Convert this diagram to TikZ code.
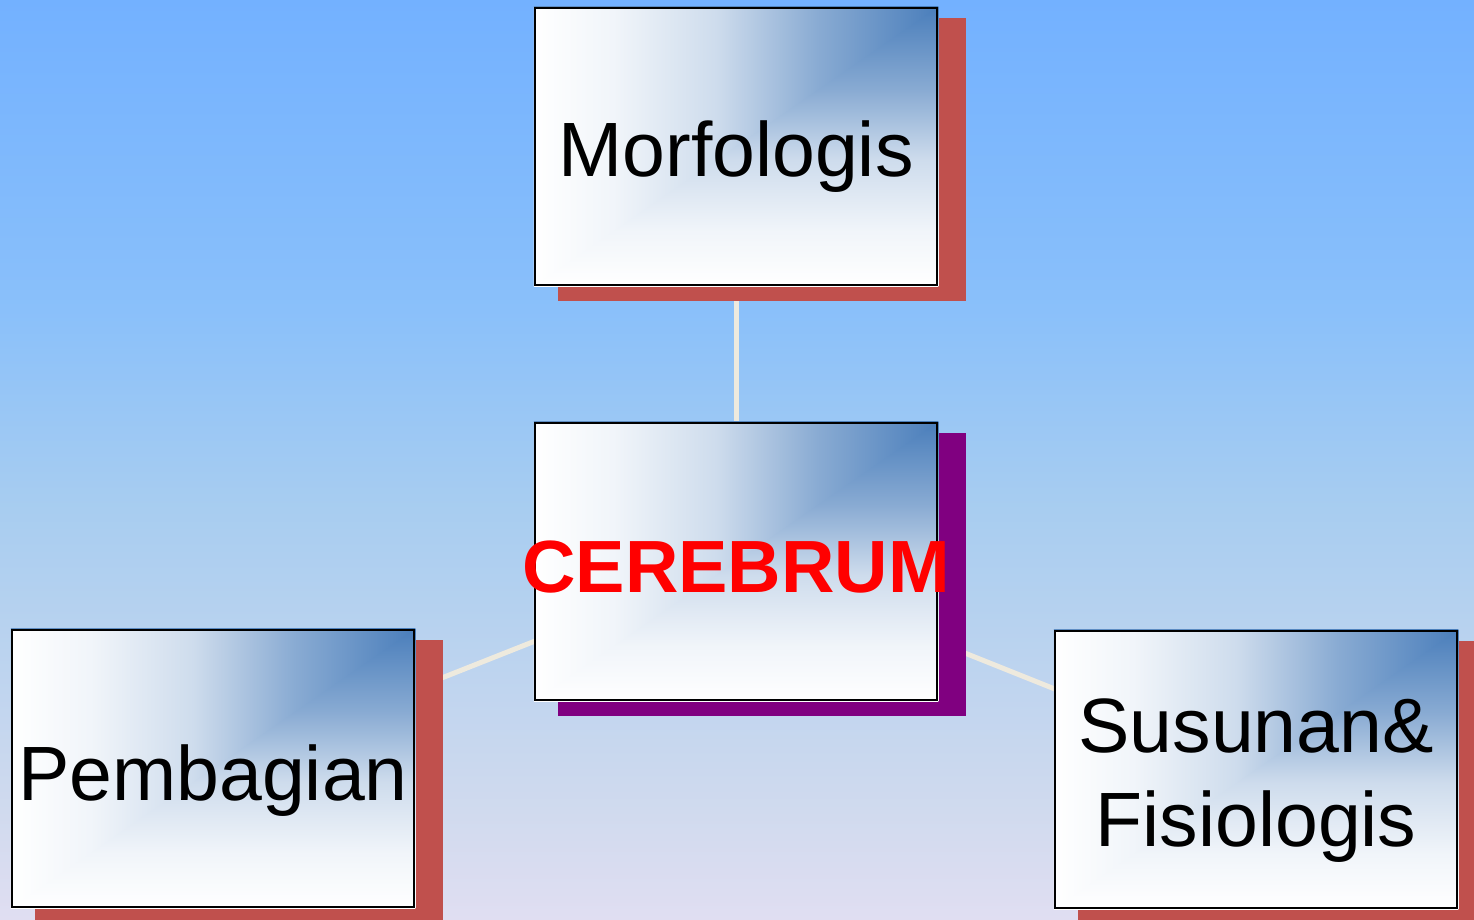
\documentclass[tikz,border=0pt]{standalone}
\usepackage{fontspec}
\setmainfont{Liberation Sans}
\usetikzlibrary{calc,backgrounds}
\definecolor{cblue}{RGB}{74,126,187}
\definecolor{bgA}{RGB}{115,177,255}
\definecolor{bgB}{RGB}{138,192,250}
\definecolor{bgC}{RGB}{168,205,240}
\definecolor{bgD}{RGB}{208,218,238}
\definecolor{bgE}{RGB}{224,222,242}
\definecolor{shadowred}{RGB}{192,80,77}
\definecolor{shadowpurple}{RGB}{128,0,128}
\definecolor{linkcol}{RGB}{238,234,222}
\colorlet{cB}{cblue!65!white}
\colorlet{cC}{cblue!27!white}
\colorlet{cD}{cblue!8!white}
\pgfdeclarehorizontalshading{cornerh}{100bp}{color(0bp)=(white); color(25bp)=(white); color(35bp)=(cD); color(47.5bp)=(cC); color(60bp)=(cB); color(75bp)=(cblue); color(100bp)=(cblue)}
\pgfdeclareverticalshading{cornerv}{100bp}{color(0bp)=(white); color(25bp)=(white); color(35bp)=(cD); color(47.5bp)=(cC); color(60bp)=(cB); color(75bp)=(cblue); color(100bp)=(cblue)}
\pgfdeclareverticalshading{skyshade}{100bp}{color(0bp)=(bgE); color(25bp)=(bgE); color(30.93bp)=(bgD); color(47.25bp)=(bgC); color(58.13bp)=(bgB); color(75bp)=(bgA); color(100bp)=(bgA)}
\newcommand{\boxlabel}[2]{\raisebox{#1}[0pt][0pt]{\makebox[0pt]{#2}}}
\newcommand{\cornerfill}[1]{%
  \shade[shading=cornerv] (#1.north west) rectangle (#1.south east);
  \begin{scope}
    \clip (#1.north west) -- (#1.north east) -- (#1.south west) -- cycle;
    \shade[shading=cornerh] (#1.north west) rectangle (#1.south east);
  \end{scope}}
\newcommand{\boxshadow}[2]{%
  \fill[#2] ($(#1.north west)+(24,11)$) rectangle ($(#1.south east)+(28,15)$);}
\tikzset{
  topicbox/.style={draw=black, line width=2.5pt, minimum width=402pt, minimum height=277pt,
    inner sep=0pt, font=\fontsize{77pt}{94pt}\selectfont},
  link/.style={draw=linkcol, line width=5pt}
}
\begin{document}
\begin{tikzpicture}[x=1pt,y=-1pt]
\useasboundingbox (0,0) rectangle (1474,919);
\node[topicbox] (m) at (736,146.5) {\boxlabel{-29.5pt}{Morfologis}};
\node[topicbox] (c) at (736,561.5) {\boxlabel{-30.5pt}{\fontsize{74pt}{90pt}\selectfont\bfseries\color{red}CEREBRUM}};
\node[topicbox] (p) at (213,768.5) {\boxlabel{-31.5pt}{Pembagian}};
\node[topicbox] (s) at (1256,769.5) {\boxlabel{-76.5pt}{\parbox[b]{400pt}{\centering Susunan\&\\Fisiologis}}};
\begin{pgfonlayer}{background}
  \shade[shading=skyshade] (0,0) rectangle (1474,919);
  \draw[link] (c.center) -- (m.center);
  \draw[link] (c.center) -- (p.center);
  \draw[link] (c.center) -- (s.center);
  \boxshadow{m}{shadowred}
  \boxshadow{c}{shadowpurple}
  \boxshadow{p}{shadowred}
  \boxshadow{s}{shadowred}
  \cornerfill{m}
  \cornerfill{c}
  \cornerfill{p}
  \cornerfill{s}
\end{pgfonlayer}
\end{tikzpicture}
\end{document}
